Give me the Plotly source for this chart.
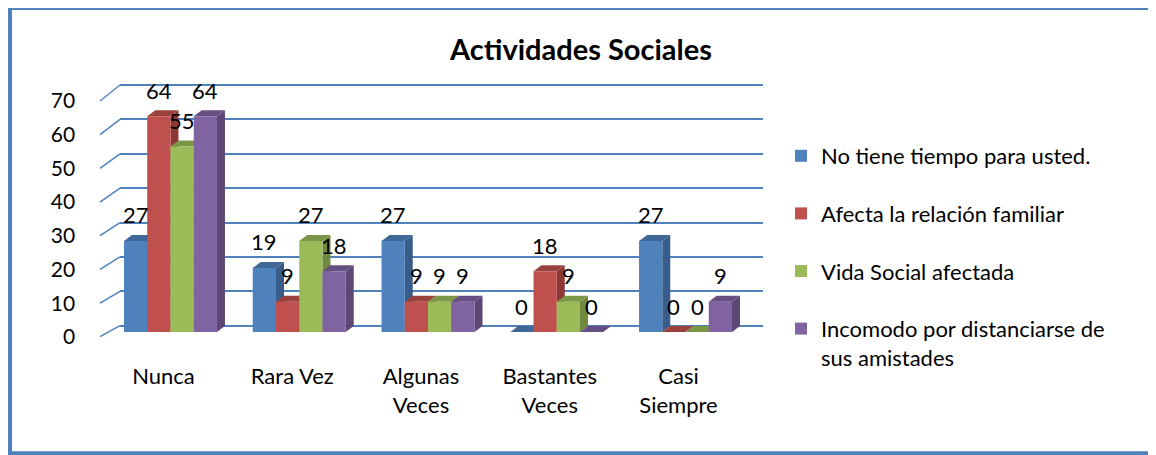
import plotly.graph_objects as go

# ---------------- data ----------------
categories = ["Nunca", "Rara Vez", "Algunas<br>Veces", "Bastantes<br>Veces", "Casi<br>Siempre"]
series_names = [
    "No tiene tiempo para usted.",
    "Afecta la relación familiar",
    "Vida Social afectada",
    "Incomodo por distanciarse de<br>sus amistades",
]
no_tiene_tiempo = [27, 19, 27, 0, 27]
afecta_relacion = [64, 9, 9, 18, 0]
vida_social = [55, 27, 9, 9, 0]
incomodo = [64, 18, 9, 0, 9]
y_ticks = [0, 10, 20, 30, 40, 50, 60, 70]
title_text = "Actividades Sociales"

series_values = [no_tiene_tiempo, afecta_relacion, vida_social, incomodo]
front_colors = ["#4F81BD", "#C0504D", "#9BBB59", "#8064A2"]
side_colors = ["#385D8A", "#8C3836", "#71893F", "#5C4776"]
top_colors = ["#3F6797", "#9A403D", "#7C9647", "#664F82"]

# ---------------- layout geometry (pixels in the screenshot) ----------------
W, H = 1156, 455
OX, OY = 8, 8  # page body margin offset of the plot div
FONT = "Lato"


def px(p):
    return (p - OX) / W


def py(p):
    return 1 - (p - OY) / H


# front (bar) axes
fx0, fx1 = 106.1, 749.9
fy0_px, fy70_px = 332.0, 96.0
# back wall (gridlines) axes: value 0 at by0_px, 70 at by70_px
bx0, bx1 = 120.0, 763.0
by0_px, by70_px = 325.7, 85.0
pad = 0.5  # small range padding so edge gridlines are kept
bpx = (by0_px - by70_px) / 70.0
byr = [-pad, 70 + pad]
by_bot = by0_px + pad * bpx
by_top = by70_px - pad * bpx

ncat = len(categories)
xr = [-0.5, ncat - 0.5]
yr = [0, 70]
px_per_x = (fx1 - fx0) / (xr[1] - xr[0])
px_per_y = (fy0_px - fy70_px) / (yr[1] - yr[0])

bargap = 0.278
nser = len(series_values)
bw = (1 - bargap) / nser

fig = go.Figure()

# dummy trace on back axes so they render
fig.add_trace(go.Scatter(x=[0], y=[0], mode="markers", marker=dict(opacity=0),
                         showlegend=False, hoverinfo="skip", xaxis="x", yaxis="y"))

for i, (name, vals) in enumerate(zip(series_names, series_values)):
    fig.add_trace(go.Bar(
        x=list(range(ncat)), y=vals, name=name,
        marker=dict(color=front_colors[i], line=dict(width=0)),
        xaxis="x2", yaxis="y2", legendgroup=f"g{i}",
    ))

# 3D depth faces derived from the data
dx_px, dy_px = 8.0, 6.0
ddx = dx_px / px_per_x
ddy = dy_px / px_per_y
shapes = []
tops = []
annotations = []
for i, vals in enumerate(series_values):
    off = -(1 - bargap) / 2 + i * bw
    for c, v in enumerate(vals):
        l = c + off
        r = l + bw
        shapes.append(dict(
            type="path", xref="x2", yref="y2", layer="between",
            path=f"M {r},0 L {r+ddx},{ddy} L {r+ddx},{v+ddy} L {r},{v} Z",
            fillcolor=side_colors[i], line=dict(width=0),
        ))
        tops.append(dict(
            type="path", xref="x2", yref="y2", layer="between",
            path=f"M {l},{v} L {r},{v} L {r+ddx},{v+ddy} L {l+ddx},{v+ddy} Z",
            fillcolor=top_colors[i], line=dict(width=0),
        ))
        annotations.append(dict(
            x=(l + r) / 2, y=v, xref="x2", yref="y2", text=str(v),
            showarrow=False, yshift=26, font=dict(family=FONT, size=22, color="black"),
        ))
shapes += tops

# diagonal connectors from front axis ticks to back wall gridlines (paper coords)
for t in y_ticks:
    yb = by0_px - t * bpx
    drop = 11 + 5 * t / 70
    shapes.append(dict(
        type="line", xref="paper", yref="paper",
        x0=px(bx0), y0=py(yb), x1=px(bx0 - 20), y1=py(yb + drop),
        line=dict(color="#4F81BD", width=1.5), layer="below",
    ))

# chart border
shapes.append(dict(
    type="rect", xref="paper", yref="paper",
    x0=px(9.8), x1=px(1153), y0=py(453.5), y1=py(7.7),
    line=dict(color="#4F81BD", width=4.5), fillcolor="rgba(0,0,0,0)", layer="above",
))

annotations.append(dict(
    text=f"<b>{title_text}</b>", x=px(580), y=py(48), xref="paper", yref="paper",
    showarrow=False, xanchor="center", yanchor="middle",
    font=dict(family=FONT, size=29, color="black"),
))

fig.update_layout(
    width=W, height=H,
    margin=dict(l=0, r=0, t=0, b=0, pad=0, autoexpand=False),
    paper_bgcolor="white", plot_bgcolor="rgba(0,0,0,0)",
    barmode="group", bargap=bargap, bargroupgap=0,
    font=dict(family=FONT, size=20, color="black"),
    xaxis=dict(domain=[px(bx0), px(bx1)], range=xr, showgrid=False, zeroline=False,
               showticklabels=False, showline=False, fixedrange=True),
    yaxis=dict(domain=[py(by_bot), py(by_top)], range=byr, tickvals=y_ticks,
               showgrid=True, gridcolor="#4F81BD", gridwidth=1.5,
               zeroline=False, showticklabels=False, showline=False, fixedrange=True),
    xaxis2=dict(domain=[px(fx0), px(fx1)], range=xr, anchor="y2",
                tickvals=list(range(ncat)), ticktext=categories,
                showgrid=False, zeroline=False, showline=False, ticks="",
                ticklabelshift=-7, ticklabelstandoff=29,
                tickfont=dict(family=FONT, size=22, color="black")),
    yaxis2=dict(domain=[py(fy0_px), py(fy70_px)], range=yr, anchor="x2",
                tickvals=y_ticks, showgrid=False, zeroline=False, showline=False, ticks="",
                ticklabelshift=5, ticklabelstandoff=30,
                tickfont=dict(family=FONT, size=21, color="black")),
    legend=dict(x=px(781), y=py(135), xanchor="left", yanchor="top",
                font=dict(family=FONT, size=22, color="black"),
                tracegroupgap=26, traceorder="grouped", valign="top",
                bgcolor="rgba(0,0,0,0)"),
    shapes=shapes,
    annotations=annotations,
    showlegend=True,
)

fig.write_html("out.html")
